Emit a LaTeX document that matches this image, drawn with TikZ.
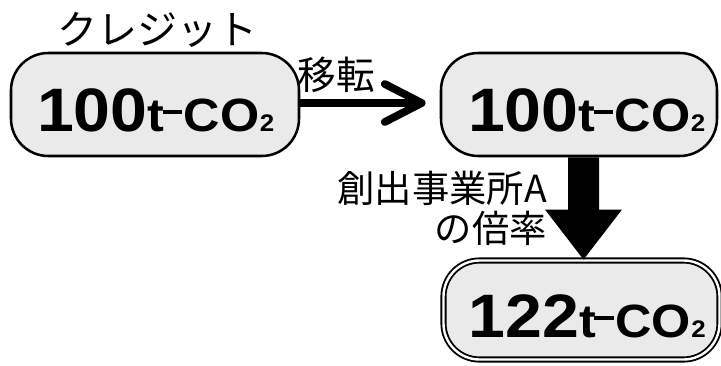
\documentclass[tikz,border=0pt]{standalone}
\usepackage{fontspec}
\setmainfont{Noto Sans CJK JP}
\newfontfamily\numfont[FakeStretch=1.08]{Liberation Sans Bold}
\usetikzlibrary{calc}
\definecolor{boxgray}{RGB}{234,234,234}
\newcommand\coamt[1]{{\numfont\fontsize{46}{46}\selectfont #1\fontsize{35}{35}\selectfont t\kern-1.2pt\rule[12.8pt]{14.5pt}{3pt}\kern1.2pt CO\kern0.3pt{\fontsize{18}{18}\selectfont 2}}}
\begin{document}
\begin{tikzpicture}[x=0.75pt,y=-0.75pt,
  box/.style={draw=black, line width=1.9pt, fill=boxgray, rounded corners=28pt,
    inner sep=0pt, text height=45pt, text depth=4.5pt, minimum height=77.25pt, minimum width=207pt},
  dbox/.style={draw=black, double=white, line width=1.4pt, double distance=1.8pt, fill=boxgray,
    rounded corners=27pt, inner sep=0pt, text height=45pt, text depth=4.5pt, minimum height=74.25pt, minimum width=207pt},
  jlabel/.style={inner sep=0pt, font=\fontsize{29}{30}\selectfont},
  thick arrow/.style={line width=5.5pt},
  chevron/.style={line width=5.8pt, line cap=round, line join=round}]
\useasboundingbox (0,0) rectangle (721,365);

\node[box, minimum width=216pt] (src) at (155,104.5) {\hspace*{1pt}\coamt{100}};
\node[box] (dst) at (579,104.5) {\hspace*{11.5pt}\coamt{100}};
\node[dbox] (res) at (581.5,310) {\hspace*{8.5pt}\coamt{122}};

\node[jlabel, anchor=base, font=\fontsize{30}{30}\selectfont] (credit) at (157,44) {クレジット};
\node[jlabel, anchor=base] (move) at (336,89) {移転};
\node[jlabel, anchor=base east, font=\fontsize{28}{30}\selectfont] (rate1) at (547,202) {創出事業所A};
\node[jlabel, anchor=base east, font=\fontsize{28}{30}\selectfont] (rate2) at (547,242) {の倍率};

% transfer arrow
\coordinate (tip1) at ($(dst.west)+(-18,-1.5)$);
\draw[thick arrow] (src.east |- tip1) -- (tip1);
\draw[chevron] ($(tip1)+(-37,-19)$) -- (tip1) -- ($(tip1)+(-37,19)$);

% block arrow
\coordinate (p) at ($(dst.south)+(4.5,0)$);
\coordinate (q) at ($(res.north)+(2,0)$);
\fill[black] ($(p)+(-15.5,0)$) -- ($(p)+(15.5,0)$) -- ($(q)+(15.5,-50)$) -- ($(q)+(38.5,-50)$)
  -- (q) -- ($(q)+(-38.5,-50)$) -- ($(q)+(-15.5,-50)$) -- cycle;
\end{tikzpicture}
\end{document}
